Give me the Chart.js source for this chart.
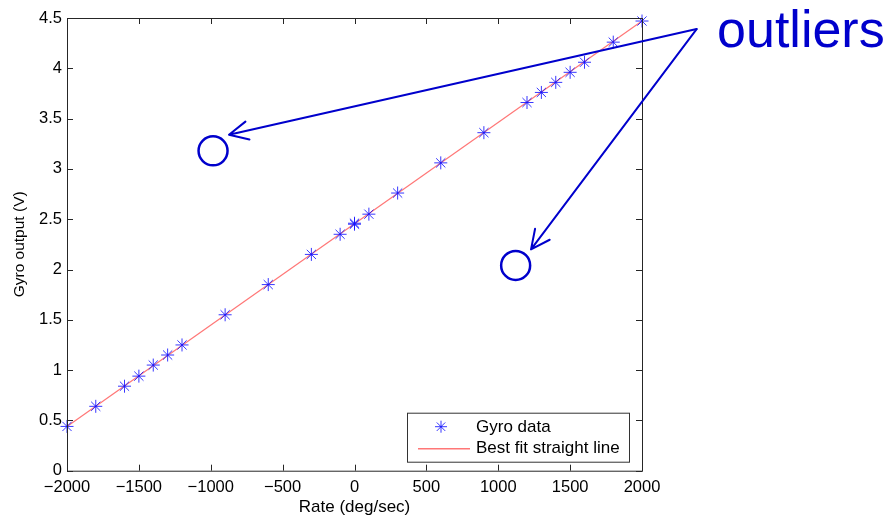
<!DOCTYPE html>
<html>
<head>
<meta charset="utf-8">
<script src="https://cdn.jsdelivr.net/npm/chart.js@4.4.1/dist/chart.umd.min.js"></script>
<style>
  body { margin: 0; background: #fff; }
  #wrap { width: 889px; height: 516px; position: relative; }
</style>
</head>
<body>
<div id="wrap"><canvas id="gyroChart"></canvas></div>
<script>
// DATA
const rates = [-2000, -1800, -1600, -1500, -1400, -1300, -1200, -900, -600, -300, -100, 0, 0, 100, 300, 600, 900, 1200, 1300, 1400, 1500, 1600, 1800, 2000];
const gyroVolts = [0.44, 0.64, 0.84, 0.94, 1.05, 1.15, 1.25, 1.55, 1.85, 2.15, 2.35, 2.45, 2.46, 2.55, 2.76, 3.06, 3.36, 3.66, 3.76, 3.86, 3.96, 4.06, 4.26, 4.47];
const fitRates = [-2000, 2000];
const fitVolts = [0.44, 4.47];
const xTicks = [-2000, -1500, -1000, -500, 0, 500, 1000, 1500, 2000];
const yTicks = [0, 0.5, 1, 1.5, 2, 2.5, 3, 3.5, 4, 4.5];

// ANNOTATION (in data units)
const arrowFrom = { x: 2380, y: 4.39 };
const arrowTips = [{ x: -873, y: 3.34 }, { x: 1228, y: 2.20 }];
const outlierRings = [{ x: -984, y: 3.18 }, { x: 1121, y: 2.04 }];
const outlierText = { text: 'outliers', x: 2522, y: 4.215 };

const FONT = '"Liberation Sans", Arial, sans-serif';
const toMinus = v => String(v).replace('-', '\u2212');

// BOX + INWARD TICKS
const boxPlugin = {
  id: 'box',
  afterDraw(chart) {
    const { ctx, chartArea: a, scales } = chart;
    ctx.save();
    ctx.strokeStyle = '#262626';
    ctx.lineWidth = 1;
    ctx.strokeRect(a.left + 0.5, a.top + 0.5, a.right - a.left, a.bottom - a.top);
    ctx.beginPath();
    xTicks.forEach(v => {
      const px = Math.round(scales.x.getPixelForValue(v)) + 0.5;
      ctx.moveTo(px, a.bottom); ctx.lineTo(px, a.bottom - 6);
      ctx.moveTo(px, a.top); ctx.lineTo(px, a.top + 6);
    });
    yTicks.forEach(v => {
      const py = Math.round(scales.y.getPixelForValue(v)) + 0.5;
      ctx.moveTo(a.left, py); ctx.lineTo(a.left + 6, py);
      ctx.moveTo(a.right, py); ctx.lineTo(a.right - 6, py);
    });
    ctx.stroke();
    ctx.restore();
  }
};

// LEGEND BOX INSIDE THE AXES
const legendPlugin = {
  id: 'boxLegend',
  afterDraw(chart) {
    const { ctx, chartArea: a } = chart;
    const w = 222, h = 49;
    const left = a.right - 13 - w, top = a.bottom - 9 - h;
    ctx.save();
    ctx.fillStyle = '#fff';
    ctx.fillRect(left, top, w, h);
    ctx.strokeStyle = '#333';
    ctx.lineWidth = 1;
    ctx.strokeRect(left + 0.5, top + 0.5, w, h);
    const ds = chart.data.datasets;
    // marker row
    ctx.strokeStyle = ds[0].borderColor;
    ctx.beginPath();
    const mx = left + 34, my = top + 14, r = 6;
    ctx.moveTo(mx, my - r); ctx.lineTo(mx, my + r);
    ctx.moveTo(mx - r, my); ctx.lineTo(mx + r, my);
    const d = r * 0.707;
    ctx.moveTo(mx - d, my - d); ctx.lineTo(mx + d, my + d);
    ctx.moveTo(mx - d, my + d); ctx.lineTo(mx + d, my - d);
    ctx.stroke();
    // line row
    ctx.strokeStyle = ds[1].borderColor;
    ctx.lineWidth = 1.5;
    ctx.beginPath();
    ctx.moveTo(left + 11, top + 36); ctx.lineTo(left + 63, top + 36);
    ctx.stroke();
    ctx.fillStyle = '#000';
    ctx.font = '17px ' + FONT;
    ctx.textBaseline = 'middle';
    ctx.fillText(ds[0].label, left + 69, top + 15);
    ctx.fillText(ds[1].label, left + 69, top + 36);
    ctx.restore();
  }
};

// OUTLIER ARROWS, RINGS AND LABEL
const outlierPlugin = {
  id: 'outliers',
  afterDraw(chart) {
    const { ctx, scales } = chart;
    const px = p => ({ x: scales.x.getPixelForValue(p.x), y: scales.y.getPixelForValue(p.y) });
    const o = px(arrowFrom);
    ctx.save();
    ctx.strokeStyle = '#0000CC';
    ctx.fillStyle = '#0000CC';
    ctx.lineWidth = 2;
    ctx.lineCap = 'round';
    arrowTips.forEach(t => {
      const p = px(t);
      ctx.beginPath();
      ctx.moveTo(o.x, o.y); ctx.lineTo(p.x, p.y);
      const ang = Math.atan2(o.y - p.y, o.x - p.x);
      [0.45, -0.45].forEach(da => {
        ctx.moveTo(p.x, p.y);
        ctx.lineTo(p.x + 21 * Math.cos(ang + da), p.y + 21 * Math.sin(ang + da));
      });
      ctx.stroke();
    });
    ctx.lineWidth = 2.5;
    outlierRings.forEach(c => {
      const p = px(c);
      ctx.beginPath();
      ctx.arc(p.x, p.y, 14.5, 0, Math.PI * 2);
      ctx.stroke();
    });
    const tp = px(outlierText);
    ctx.font = '52px ' + FONT;
    ctx.textBaseline = 'alphabetic';
    ctx.fillText(outlierText.text, tp.x, tp.y);
    ctx.restore();
  }
};

const ctx = document.getElementById('gyroChart').getContext('2d');
const gyroChart = new Chart(ctx, {
  type: 'scatter',
  data: {
    datasets: [{
      label: 'Gyro data',
      data: rates.map((r, i) => ({ x: r, y: gyroVolts[i] })),
      pointStyle: 'star',
      pointRadius: 6.5,
      pointBorderWidth: 1,
      borderColor: 'rgba(20, 20, 255, 0.85)',
      backgroundColor: 'rgba(20, 20, 255, 0.85)',
      showLine: false,
      clip: false,
      order: 1
    }, {
      label: 'Best fit straight line',
      data: fitRates.map((r, i) => ({ x: r, y: fitVolts[i] })),
      showLine: true,
      pointRadius: 0,
      borderColor: '#FF7777',
      borderWidth: 1.2,
      order: 2
    }]
  },
  options: {
    responsive: true,
    maintainAspectRatio: false,
    animation: false,
    layout: { padding: { left: 0, top: 18, right: 247, bottom: 0 } },
    plugins: { legend: { display: false }, tooltip: { enabled: false } },
    scales: {
      x: {
        type: 'linear',
        min: -2000, max: 2000,
        afterBuildTicks: s => { s.ticks = xTicks.map(v => ({ value: v })); },
        afterFit: s => { s.height = 45.3; },
        grid: { display: false, drawTicks: false },
        border: { display: false },
        ticks: {
          padding: 7,
          color: '#000',
          font: { family: FONT, size: 16.5 },
          callback: v => toMinus(v),
          maxRotation: 0
        },
        title: {
          display: true,
          text: 'Rate (deg/sec)',
          color: '#000',
          font: { family: FONT, size: 17 },
          padding: { top: 0, bottom: -2 }
        }
      },
      y: {
        type: 'linear',
        min: 0, max: 4.5,
        afterBuildTicks: s => { s.ticks = yTicks.map(v => ({ value: v })); },
        afterFit: s => { s.width = 67; },
        grid: { display: false, drawTicks: false },
        border: { display: false },
        ticks: {
          padding: 5,
          color: '#000',
          font: { family: FONT, size: 16.5 },
          callback: v => toMinus(v)
        },
        title: {
          display: true,
          text: 'Gyro output (V)',
          color: '#000',
          font: { family: FONT, size: 15.5 },
          padding: { top: 10, bottom: 0 }
        }
      }
    }
  },
  plugins: [boxPlugin, legendPlugin, outlierPlugin]
});
</script>
</body>
</html>
